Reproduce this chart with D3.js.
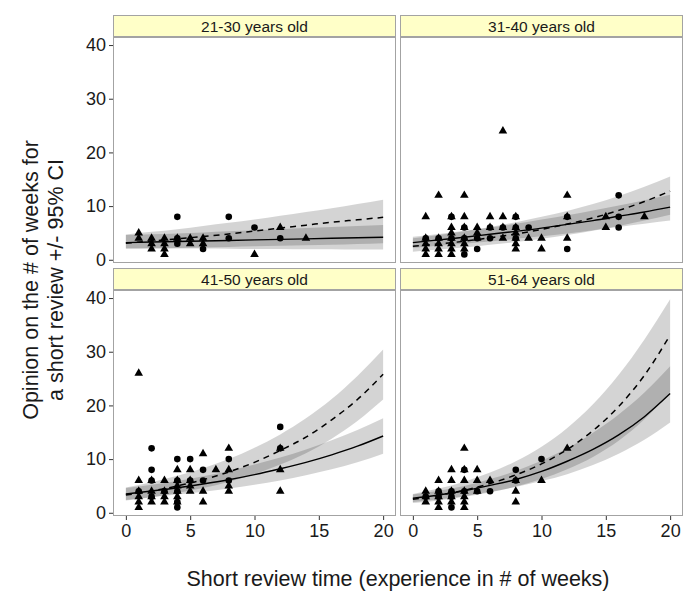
<!DOCTYPE html>
<html>
<head>
<meta charset="utf-8">
<script src="https://cdn.jsdelivr.net/npm/d3@7"></script>
<style>
  body { margin: 0; background: #fff; }
  text { font-family: "Liberation Sans", Arial, sans-serif; }
</style>
</head>
<body>
<svg id="chart" width="700" height="600"></svg>
<script>
// ---------- data ----------
const panelTitles = ["21-30 years old", "31-40 years old", "41-50 years old", "51-64 years old"];
const xTicks = [0, 5, 10, 15, 20];
const yTicks = [0, 10, 20, 30, 40];
const fitX = [0, 2, 4, 6, 8, 10, 12, 14, 16, 18, 20];

// solid fitted line and its 95% CI
const solidFit = [
  [3.2, 3.3, 3.4, 3.5, 3.6, 3.7, 3.8, 3.9, 4.0, 4.1, 4.2],
  [3.2, 3.7, 4.2, 4.75, 5.3, 5.9, 6.6, 7.3, 8.1, 8.9, 9.8],
  [3.5, 4.05, 4.65, 5.35, 6.15, 7.1, 8.2, 9.4, 10.8, 12.4, 14.3],
  [2.7, 3.3, 4.1, 5.1, 6.2, 7.7, 9.6, 11.8, 14.5, 17.9, 22.2]
];
const solidLo = [
  [2.2, 2.15, 2.1, 2.1, 2.05, 2.0, 2.0, 1.95, 1.95, 1.9, 1.9],
  [2.2, 2.6, 3.0, 3.4, 3.9, 4.4, 4.9, 5.5, 6.1, 6.7, 7.3],
  [2.4, 2.9, 3.4, 3.9, 4.5, 5.2, 6.0, 7.0, 8.1, 9.4, 11.0],
  [2.0, 2.5, 3.1, 3.9, 4.8, 5.9, 7.2, 8.9, 11.0, 13.6, 16.8]
];
const solidHi = [
  [4.6, 4.75, 4.9, 5.1, 5.3, 5.5, 5.7, 5.9, 6.1, 6.3, 6.5],
  [4.3, 4.8, 5.4, 6.0, 6.7, 7.5, 8.3, 9.2, 10.1, 11.1, 12.1],
  [4.6, 5.2, 5.9, 6.8, 7.8, 9.0, 10.3, 11.8, 13.5, 15.4, 17.6],
  [3.4, 4.1, 5.0, 6.3, 7.8, 9.7, 12.0, 14.9, 18.3, 22.4, 27.3]
];
// dashed fitted line and its 95% CI
const dashFit = [
  [3.1, 3.5, 3.9, 4.35, 4.8, 5.35, 5.9, 6.45, 7.0, 7.45, 7.9],
  [2.5, 2.95, 3.45, 4.1, 4.8, 5.65, 6.65, 7.8, 9.2, 10.85, 12.8],
  [3.3, 4.05, 5.0, 6.15, 7.6, 9.4, 11.6, 14.1, 17.3, 21.1, 25.8],
  [2.5, 3.25, 4.2, 5.45, 7.05, 9.1, 11.8, 15.3, 19.8, 25.6, 33.1]
];
const dashLo = [
  [2.0, 2.1, 2.2, 2.3, 2.4, 2.5, 2.6, 2.7, 2.8, 2.95, 3.1],
  [1.5, 1.9, 2.3, 2.8, 3.3, 3.9, 4.6, 5.4, 6.3, 7.3, 8.4],
  [2.3, 2.9, 3.7, 4.6, 5.8, 7.2, 9.0, 11.1, 13.8, 17.1, 21.1],
  [1.8, 2.3, 3.0, 3.8, 4.9, 6.3, 8.1, 10.4, 13.4, 17.4, 22.5]
];
const dashHi = [
  [4.7, 5.2, 5.7, 6.3, 6.9, 7.5, 8.2, 8.9, 9.6, 10.4, 11.2],
  [4.0, 4.6, 5.3, 6.1, 7.0, 8.0, 9.1, 10.4, 11.9, 13.6, 15.5],
  [4.7, 5.7, 6.9, 8.3, 10.0, 12.1, 14.6, 17.6, 21.2, 25.5, 30.4],
  [3.5, 4.5, 5.8, 7.5, 9.6, 12.3, 15.8, 20.2, 25.7, 32.3, 39.8]
];

// observed points: [weeks of experience, opinion in weeks]
const triangles = [
  [[1,5],[1,4],[2,4],[2,3],[2,2],[3,4],[3,3],[3,2],[3,1],[4,4],[5,4],[5,3],[6,4],[6,3],[10,1],[12,6],[14,4]],
  [[1,8],[1,4],[1,3],[1,2],[1,1],[2,12],[2,4],[2,3],[2,2],[2,1],[3,8],[3,6],[3,5],[3,4],[3,3],[3,2],[3,1],
   [4,12],[4,8],[4,6],[4,4],[4,3],[4,2],[5,6],[5,5],[5,4],[6,8],[6,6],[7,24],[7,8],[7,6],[7,4],
   [8,8],[8,6],[8,5],[8,4],[8,3],[8,2],[9,4],[10,4],[10,2],[12,12],[12,8],[12,4],[15,8],[15,6],[18,8]],
  [[1,26],[1,6],[1,4],[1,3],[1,2],[1,1],[2,6],[2,4],[2,3],[2,2],[3,6],[3,4],[3,3],[3,2],[4,8],[4,6],[4,5],
   [4,4],[4,3],[4,2],[5,8],[5,6],[5,5],[5,4],[6,11],[6,4],[6,2],[7,8],[8,12],[8,8],[8,5],[8,4],[12,12],[12,8],[12,4]],
  [[1,4],[1,3],[1,2],[2,6],[2,4],[2,3],[2,2],[2,1],[3,8],[3,6],[3,4],[3,3],[3,2],[4,12],[4,8],[4,6],[4,4],
   [4,3],[4,2],[4,1],[5,8],[5,6],[5,4],[6,6],[8,6],[8,4],[8,2],[10,6],[12,12]]
];
const circles = [
  [[4,8],[4,4],[4,3],[6,2],[8,8],[8,4],[10,6],[12,4]],
  [[1,4],[2,4],[3,8],[3,4],[4,6],[4,4],[4,1],[5,4],[5,2],[6,6],[6,4],[7,6],[8,8],[8,6],[8,4],[9,6],
   [12,8],[12,2],[16,12],[16,8],[16,6]],
  [[1,4],[2,12],[2,8],[2,6],[2,3],[3,4],[4,10],[4,6],[4,4],[4,2],[4,1],[5,10],[5,6],[6,8],[6,6],
   [8,10],[8,6],[12,16],[12,12]],
  [[1,3],[2,4],[2,3],[3,4],[3,3],[3,1],[4,8],[4,4],[5,4],[6,4],[8,8],[8,6],[10,10]]
];

const xTitle = "Short review time (experience in # of weeks)";
const yTitleLines = ["Opinion on the # of weeks for", "a short review +/- 95% CI"];

// ---------- layout ----------
const svg = d3.select("#chart");
const colLeft = [113, 400];
const panelW = 283;
const stripTop = [15, 268];
const plotTop = [37, 290];
const plotH = 226;
const border = "#a3a3a3";
const font = "Liberation Sans, Arial, sans-serif";

const x0 = d3.scaleLinear().domain([-1, 21]).range([0, panelW]);
const y0 = d3.scaleLinear().domain([-0.6, 41.5]).range([plotH, 0]);

panelTitles.forEach((title, i) => {
  const col = i % 2, row = Math.floor(i / 2);
  const g = svg.append("g").attr("transform", `translate(${colLeft[col]},${plotTop[row]})`);

  // strip
  svg.append("rect")
    .attr("x", colLeft[col] + 0.5).attr("y", stripTop[row] + 0.5)
    .attr("width", panelW - 1).attr("height", plotTop[row] - stripTop[row] - 1)
    .attr("fill", "#ffffc8").attr("stroke", border);
  svg.append("text")
    .attr("x", colLeft[col] + panelW / 2)
    .attr("y", (stripTop[row] + plotTop[row]) / 2 + 5.5)
    .attr("text-anchor", "middle").attr("font-size", 15.5).attr("fill", "#1a1a1a")
    .text(title);

  const clipId = "clip" + i;
  g.append("clipPath").attr("id", clipId)
    .append("rect").attr("width", panelW).attr("height", plotH);
  const inner = g.append("g").attr("clip-path", `url(#${clipId})`);

  const area = (lo, hi) => d3.area()
    .x((d, k) => x0(fitX[k]))
    .y0((d, k) => y0(lo[k]))
    .y1((d, k) => y0(hi[k]))
    .curve(d3.curveMonotoneX)(fitX);
  const line = (vals) => d3.line()
    .x((d, k) => x0(fitX[k]))
    .y((d, k) => y0(vals[k]))
    .curve(d3.curveMonotoneX)(fitX);

  inner.append("path").attr("d", area(solidLo[i], solidHi[i]))
    .attr("fill", "#000").attr("fill-opacity", 0.17);
  inner.append("path").attr("d", area(dashLo[i], dashHi[i]))
    .attr("fill", "#000").attr("fill-opacity", 0.17);

  inner.append("path").attr("d", line(solidFit[i]))
    .attr("fill", "none").attr("stroke", "#000").attr("stroke-width", 1.4);
  inner.append("path").attr("d", line(dashFit[i]))
    .attr("fill", "none").attr("stroke", "#000").attr("stroke-width", 1.5)
    .attr("stroke-dasharray", "6,5");

  const tri = d3.symbol().type(d3.symbolTriangle).size(32);
  inner.selectAll(".tri").data(triangles[i]).join("path")
    .attr("class", "tri")
    .attr("d", tri)
    .attr("transform", d => `translate(${x0(d[0])},${y0(d[1])})`)
    .attr("fill", "#000");
  inner.selectAll(".circ").data(circles[i]).join("circle")
    .attr("class", "circ")
    .attr("cx", d => x0(d[0])).attr("cy", d => y0(d[1])).attr("r", 3.3)
    .attr("fill", "#000");

  // panel border
  g.append("rect").attr("x", 0.5).attr("y", 0.5)
    .attr("width", panelW - 1).attr("height", plotH - 1)
    .attr("fill", "none").attr("stroke", border);

  // axes
  if (col === 0) {
    const ay = g.append("g").call(d3.axisLeft(y0).tickValues(yTicks).tickSize(4).tickPadding(3));
    ay.select(".domain").remove();
    ay.selectAll("line").attr("stroke", "#333");
    ay.selectAll("text").attr("font-size", 18).attr("fill", "#1a1a1a").attr("font-family", font);
  }
  if (row === 1) {
    const ax = g.append("g").attr("transform", `translate(0,${plotH})`)
      .call(d3.axisBottom(x0).tickValues(xTicks).tickSize(4).tickPadding(4));
    ax.select(".domain").remove();
    ax.selectAll("line").attr("stroke", "#333");
    ax.selectAll("text").attr("font-size", 18).attr("fill", "#1a1a1a").attr("font-family", font);
  }
});

// titles
svg.append("text")
  .attr("x", 398).attr("y", 586)
  .attr("text-anchor", "middle").attr("font-size", 21.5).attr("fill", "#1a1a1a")
  .text(xTitle);

const yt = svg.append("text")
  .attr("transform", "translate(38,280) rotate(-90)")
  .attr("text-anchor", "middle").attr("font-size", 21.5).attr("fill", "#1a1a1a");
yTitleLines.forEach((t, k) => {
  yt.append("tspan").attr("x", 0).attr("dy", k === 0 ? 0 : 25).text(t);
});
</script>
</body>
</html>
